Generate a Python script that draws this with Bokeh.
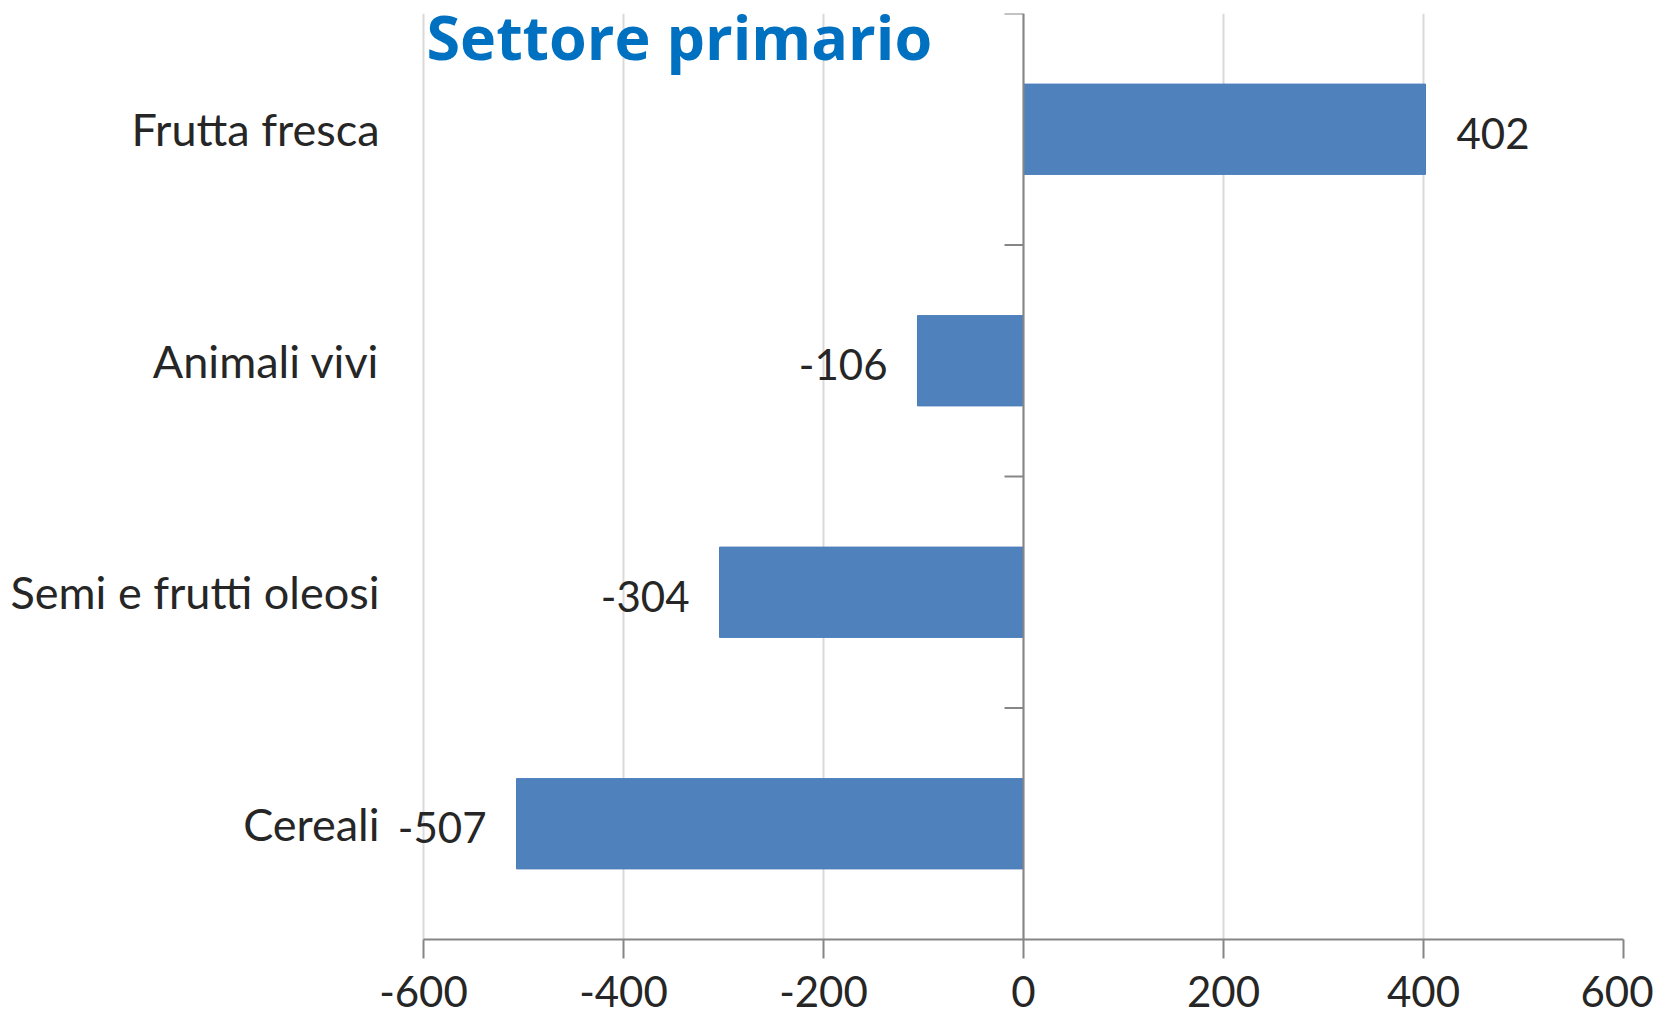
import math
from bokeh.plotting import figure
from bokeh.models import ColumnDataSource, Range1d, FixedTicker, Span
from bokeh.core.properties import value
from bokeh.embed import file_html
from bokeh.resources import INLINE

# ---- data (bottom to top) ----
categories = ["Cereali", "Semi e frutti oleosi", "Animali vivi", "Frutta fresca"]
values = [-507, -304, -106, 402]
x_ticks = [-600, -400, -200, 0, 200, 400, 600]
x_tick_labels = ["-600", "-400", "-200", "0", "200", "400", "600"]
title_text = "Settore primario"

positions = [i + 0.5 for i in range(len(categories))]
boundaries = [i + 1 for i in range(len(categories))]

# ---- layout (pixels) ----
LEFT_PX = 423      # room for the category labels, left of the -600 line
RIGHT_PX = 30
TOP_PX = 13
BOTTOM_PX = 86
W, H = 1653, 1025

FONT = "Lato"
BAR = "#4F81BD"
AXIS = "#868686"
GRID = "#D9D9D9"
TXT = "#262626"

src = ColumnDataSource(dict(
    y=positions,
    v=values,
    cat=categories,
    lab=[str(v) for v in values],
    align=["left" if v > 0 else "right" for v in values],
    off=[31 if v > 0 else -30 for v in values],
))

x_span = x_ticks[-1] - x_ticks[0]
frame_w = W - RIGHT_PX
x_start = x_ticks[-1] - x_span * frame_w / (frame_w - LEFT_PX)

p = figure(width=W, height=H,
           x_range=Range1d(x_start, x_ticks[-1]),
           y_range=Range1d(0, len(categories)),
           y_axis_location=None,
           output_backend="svg", toolbar_location=None,
           min_border_left=0, min_border_right=RIGHT_PX,
           min_border_top=TOP_PX, min_border_bottom=BOTTOM_PX)
p.outline_line_color = None
p.background_fill_color = "white"
p.border_fill_color = "white"

# grid
p.xgrid.ticker = FixedTicker(ticks=x_ticks)
p.xgrid.grid_line_color = GRID
p.xgrid.grid_line_width = 2
p.ygrid.grid_line_color = None

# x axis
xa = p.xaxis[0]
xa.bounds = (x_ticks[0], x_ticks[-1])
xa.ticker = FixedTicker(ticks=x_ticks)
xa.major_label_overrides = {t: l for t, l in zip(x_ticks, x_tick_labels)}
xa.axis_line_color = AXIS
xa.axis_line_width = 2
xa.major_tick_line_color = AXIS
xa.major_tick_line_width = 2
xa.major_tick_out = 19
xa.major_tick_in = 0
xa.minor_tick_line_color = None
xa.major_label_text_font = FONT
xa.major_label_text_font_size = "42px"
xa.major_label_text_color = TXT
xa.major_label_standoff = 17

# bars
p.hbar(y="y", left=0, right="v", height=0.39, source=src,
       fill_color=BAR, line_color="#4A7EBB", line_width=1)

# vertical zero axis with category boundary ticks
p.add_layout(Span(location=0, dimension="height", line_color=AXIS, line_width=2))
p.ray(x=0, y=boundaries, length=19, length_units="screen", angle=math.pi,
      line_color=AXIS, line_width=2)

# category labels
p.text(x=x_ticks[0], y="y", text="cat", source=src, x_offset=-44, y_offset=0,
       text_align="right", text_baseline="middle",
       text_font=value(FONT), text_font_size="45px", text_color=TXT)

# value labels
p.text(x="v", y="y", text="lab", source=src, text_align="align",
       x_offset="off", y_offset=4, text_baseline="middle",
       text_font=value(FONT), text_font_size="42px", text_color=TXT)

# title over the plot
p.text(x=[x_ticks[0]], y=[len(categories)], text=[title_text], x_offset=3, y_offset=23,
       text_align="left", text_baseline="alphabetic",
       text_font=value("Open Sans"), text_font_style="bold",
       text_font_size="61px", text_color="#0070C0")

open("out.html", "w").write(file_html(p, INLINE))
